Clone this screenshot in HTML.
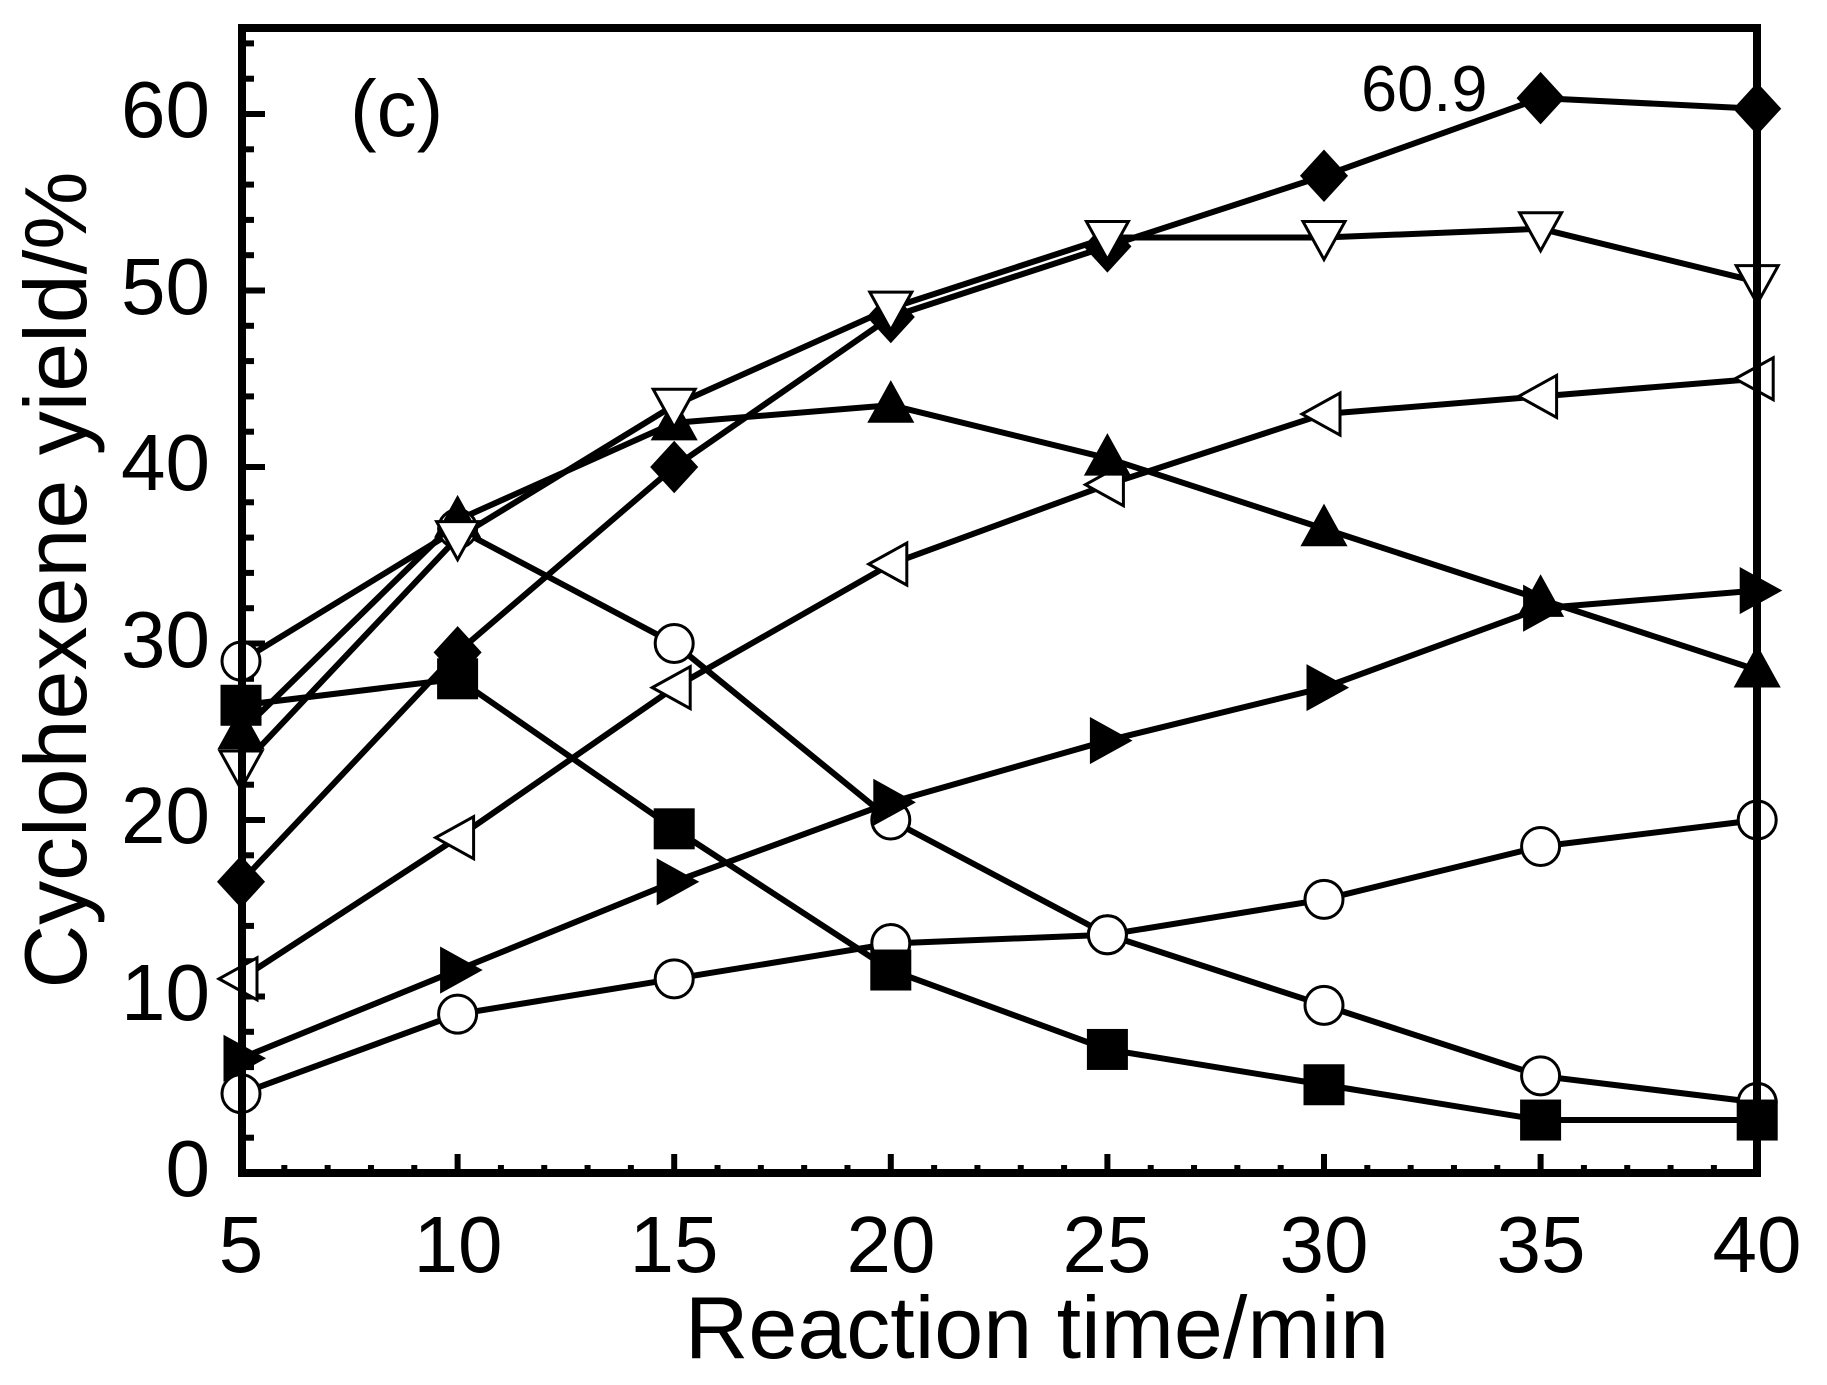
<!DOCTYPE html>
<html><head><meta charset="utf-8"><style>
html,body{margin:0;padding:0;background:#fff;}
svg{display:block;}
text{font-family:"Liberation Sans",sans-serif;fill:#000;}
</style></head><body>
<svg id="s" width="1827" height="1385" viewBox="0 0 1827 1385" xmlns="http://www.w3.org/2000/svg">
<rect x="0" y="0" width="1827" height="1385" fill="#fff"/>
<g id="ticks" stroke="#000" stroke-width="6"></g>
<g id="lines" fill="none" stroke="#000" stroke-width="6" stroke-linejoin="round"></g>
<g id="marks" stroke="#000" stroke-width="3"></g>
<rect x="242" y="28" width="1515" height="1145" fill="none" stroke="#000" stroke-width="8"/>
<g font-size="80" text-anchor="end">
<text x="210" y="1196">0</text>
<text x="210" y="1020">10</text>
<text x="210" y="843">20</text>
<text x="210" y="667">30</text>
<text x="210" y="490">40</text>
<text x="210" y="314">50</text>
<text x="210" y="137">60</text>
</g>
<g font-size="80" text-anchor="middle">
<text x="241" y="1272">5</text>
<text x="458" y="1272">10</text>
<text x="674" y="1272">15</text>
<text x="891" y="1272">20</text>
<text x="1107" y="1272">25</text>
<text x="1324" y="1272">30</text>
<text x="1541" y="1272">35</text>
<text x="1757" y="1272">40</text>
</g>
<text x="1037" y="1358" font-size="88" text-anchor="middle">Reaction time/min</text>
<text transform="translate(86,580) rotate(-90)" font-size="88" text-anchor="middle">Cyclohexene yield/%</text>
<text x="350" y="136" font-size="80">(c)</text>
<text x="1361" y="111" font-size="65">60.9</text>
</svg>
<script>
var NS="http://www.w3.org/2000/svg";
function X(t){return 241+(t-5)*43.32;}
function Y(v){return 1173-v*17.65;}
function el(p,n,a){var e=document.createElementNS(NS,n);for(var k in a)e.setAttribute(k,a[k]);document.getElementById(p).appendChild(e);return e;}
for(var v=0;v<=64;v+=2){var L=(v%10==0)?23:12;el("ticks","line",{x1:242,x2:242+L,y1:Y(v),y2:Y(v)});}
for(var t=5;t<=40;t++){var L=(t%5==0)?19:8;el("ticks","line",{x1:X(t),x2:X(t),y1:1173,y2:1173-L});}
var T=[5,10,15,20,25,30,35,40];
var S=[
 {m:"c",f:0,d:[29,36.5,30,20,13.5,9.5,5.5,4]},
 {m:"c",f:0,d:[4.5,9,11,13,13.5,15.5,18.5,20]},
 {m:"sq",f:1,d:[26.5,28,19.5,11.5,7,5,3,3]},
 {m:"lt",f:0,d:[11,19,27.5,34.5,39,43,44,45]},
 {m:"rt",f:1,d:[6.5,11.5,16.5,21,24.5,27.5,32,33]},
 {m:"up",f:1,d:[25,37,42.5,43.5,40.5,36.5,32.5,28.5]},
 {m:"dia",f:1,d:[16.5,29.5,40,48.5,52.5,56.5,60.9,60.3]},
 {m:"dn",f:0,d:[23,36,43.5,49,53,53,53.5,50.5]}
];
S.forEach(function(s){
 var p=s.d.map(function(v,i){return X(T[i])+","+Y(v);}).join(" ");
 el("lines","polyline",{points:p});
});
S.forEach(function(s){
 s.d.forEach(function(v,i){
  var x=X(T[i]),y=Y(v),fill=s.f?"#000":"#fff",pts;
  if(s.m=="c"){el("marks","circle",{cx:x,cy:y,r:19,fill:fill});return;}
  if(s.m=="sq"){el("marks","rect",{x:x-19,y:y-19,width:38,height:38,fill:fill});return;}
  if(s.m=="dia")pts=[[x,y-24],[x+22,y],[x,y+24],[x-22,y]];
  if(s.m=="up")pts=[[x,y-22],[x+21,y+16],[x-21,y+16]];
  if(s.m=="dn")pts=[[x,y+22],[x+21,y-16],[x-21,y-16]];
  if(s.m=="lt")pts=[[x-22,y],[x+16,y-21],[x+16,y+21]];
  if(s.m=="rt")pts=[[x+22,y],[x-16,y-21],[x-16,y+21]];
  el("marks","polygon",{points:pts.map(function(q){return q.join(",");}).join(" "),fill:fill});
 });
});
</script>
</body></html>
